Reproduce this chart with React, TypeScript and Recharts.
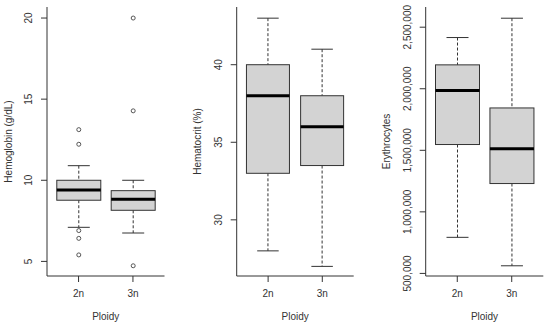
import React from 'react';
import { ComposedChart, Bar, XAxis, YAxis } from 'recharts';

const ploidy = ['2n', '3n'];

// Hemoglobin (g/dL)
const hbLow = [7.1, 6.75];
const hbQ1 = [8.77, 8.15];
const hbMedian = [9.4, 8.83];
const hbQ3 = [10.0, 9.36];
const hbHigh = [10.9, 10.0];
const hbOutliers = [[13.12, 12.22, 6.9, 6.42, 5.4], [20.0, 14.28, 4.73]];
const hbTicks = [5, 10, 15, 20];
const hbDomain = [4.1, 20.68];

// Hematocrit (%)
const hctLow = [28, 27];
const hctQ1 = [33, 33.5];
const hctMedian = [38, 36];
const hctQ3 = [40, 38];
const hctHigh = [43, 41];
const hctOutliers = [[], []];
const hctTicks = [30, 35, 40];
const hctDomain = [26.38, 43.72];

// Erythrocytes
const eryLow = [793000, 562000];
const eryQ1 = [1547000, 1230000];
const eryMedian = [1985000, 1512000];
const eryQ3 = [2194000, 1844000];
const eryHigh = [2416000, 2573000];
const eryOutliers = [[], []];
const eryTicks = [500000, 1000000, 1500000, 2000000, 2500000];
const eryDomain = [479000, 2664000];

const FONT = '"Liberation Sans", Arial, sans-serif';
const TEXT = '#333';
const LINE = '#333';

function buildRows(low: number[], q1: number[], med: number[], q3: number[], high: number[], outliers: number[][]) {
  return ploidy.map((p, i) => ({
    ploidy: p,
    low: low[i],
    q1: q1[i],
    median: med[i],
    q3: q3[i],
    high: high[i],
    outliers: outliers[i],
  }));
}

function BoxShape(props: any) {
  const { x, y, width, height } = props;
  const d = props.payload ?? props;
  const { low, high, q1, median, q3, outliers } = d;
  const py = (v: number) => y + ((high - v) / (high - low)) * height;
  const cx = x + width / 2;
  const cap = width / 4;
  return (
    <g>
      <line x1={cx} x2={cx} y1={py(high)} y2={py(q3)} stroke={LINE} strokeDasharray="3 2" />
      <line x1={cx} x2={cx} y1={py(q1)} y2={py(low)} stroke={LINE} strokeDasharray="3 2" />
      <line x1={cx - cap} x2={cx + cap} y1={py(high)} y2={py(high)} stroke={LINE} />
      <line x1={cx - cap} x2={cx + cap} y1={py(low)} y2={py(low)} stroke={LINE} />
      <rect x={x} y={py(q3)} width={width} height={py(q1) - py(q3)} fill="#d3d3d3" stroke={LINE} />
      <line x1={x} x2={x + width} y1={py(median)} y2={py(median)} stroke="#000" strokeWidth={3} />
      {(outliers || []).map((o: number, i: number) => (
        <circle key={i} cx={cx} cy={py(o)} r={2} fill="none" stroke="#555" />
      ))}
    </g>
  );
}

const XTick = (props: any) => {
  const { x, y, payload } = props;
  return (
    <text x={x} y={y + 15} textAnchor="middle" fontSize={10} fontFamily={FONT} fill={TEXT}>
      {payload.value}
    </text>
  );
};

function makeYTick(format: (v: number) => string) {
  return (props: any) => {
    const { x, y, payload } = props;
    const cx = x - 12;
    return (
      <text
        x={cx}
        y={y}
        dy="0.35em"
        transform={`rotate(-90 ${cx} ${y})`}
        textAnchor="middle"
        fontSize={10}
        fontFamily={FONT}
        fill={TEXT}
      >
        {format(payload.value)}
      </text>
    );
  };
}

type PanelProps = {
  left: number;
  width: number;
  yAxisWidth: number;
  rightMargin: number;
  rows: any[];
  domain: number[];
  ticks: number[];
  yLabel: string;
  format: (v: number) => string;
};

function Panel({ left, width, yAxisWidth, rightMargin, rows, domain, ticks, yLabel, format }: PanelProps) {
  const top = 7;
  const plotH = 269;
  const plotW = width - yAxisWidth - rightMargin;
  const pad = (0.08 / 2.16) * plotW;
  const YTick = makeYTick(format);
  return (
    <div style={{ position: 'absolute', left, top: 0 }}>
      <ComposedChart
        width={width}
        height={327}
        data={rows}
        margin={{ top, right: rightMargin, bottom: 0, left: 0 }}
        barCategoryGap="10%"
      >
        <XAxis
          dataKey="ploidy"
          type="category"
          height={51}
          padding={{ left: pad, right: pad }}
          tickSize={6}
          tickMargin={0}
          tick={XTick}
          axisLine={{ stroke: LINE }}
          tickLine={{ stroke: LINE }}
          label={{
            content: (p: any) => {
              const vb = p && p.viewBox ? p.viewBox : { x: yAxisWidth, y: top + plotH, width: plotW };
              return (
                <text
                  x={vb.x + vb.width / 2}
                  y={vb.y + 44.3}
                  textAnchor="middle"
                  fontSize={10}
                  fontFamily={FONT}
                  fill={TEXT}
                >
                  Ploidy
                </text>
              );
            },
          }}
        />
        <XAxis
          xAxisId="top"
          orientation="top"
          dataKey="ploidy"
          height={0}
          tick={false}
          tickLine={false}
          axisLine={{ stroke: LINE }}
        />
        <YAxis
          type="number"
          domain={domain}
          ticks={ticks}
          interval={0}
          allowDataOverflow
          width={yAxisWidth}
          tickSize={6}
          tickMargin={0}
          tick={YTick}
          axisLine={{ stroke: LINE }}
          tickLine={{ stroke: LINE }}
          label={{
            content: () => {
              const cx = yAxisWidth - 39;
              const cy = top + plotH / 2;
              return (
                <text
                  x={cx}
                  y={cy}
                  dy="0.35em"
                  transform={`rotate(-90 ${cx} ${cy})`}
                  textAnchor="middle"
                  fontSize={10}
                  fontFamily={FONT}
                  fill={TEXT}
                >
                  {yLabel}
                </text>
              );
            },
          }}
        />
        <YAxis
          yAxisId="right"
          orientation="right"
          width={0}
          tick={false}
          tickLine={false}
          axisLine={{ stroke: LINE }}
        />
        <Bar
          dataKey={(d: any) => [d.low, d.high]}
          shape={BoxShape}
          isAnimationActive={false}
        />
      </ComposedChart>
    </div>
  );
}

export default function App() {
  const hbRows = buildRows(hbLow, hbQ1, hbMedian, hbQ3, hbHigh, hbOutliers);
  const hctRows = buildRows(hctLow, hctQ1, hctMedian, hctQ3, hctHigh, hctOutliers);
  const eryRows = buildRows(eryLow, eryQ1, eryMedian, eryQ3, eryHigh, eryOutliers);
  return (
    <div style={{ position: 'absolute', left: 0, top: 0, width: 550, height: 327, background: '#fff' }}>
      <Panel
        left={0}
        width={180}
        yAxisWidth={47}
        rightMargin={15.5}
        rows={hbRows}
        domain={hbDomain}
        ticks={hbTicks}
        yLabel="Hemoglobin (g/dL)"
        format={(v) => String(v)}
      />
      <Panel
        left={180}
        width={185}
        yAxisWidth={56.7}
        rightMargin={11.3}
        rows={hctRows}
        domain={hctDomain}
        ticks={hctTicks}
        yLabel="Hematocrit (%)"
        format={(v) => String(v)}
      />
      <Panel
        left={365}
        width={185}
        yAxisWidth={60.7}
        rightMargin={6.7}
        rows={eryRows}
        domain={eryDomain}
        ticks={eryTicks}
        yLabel="Erythrocytes"
        format={(v) => v.toLocaleString('en-US')}
      />
    </div>
  );
}
